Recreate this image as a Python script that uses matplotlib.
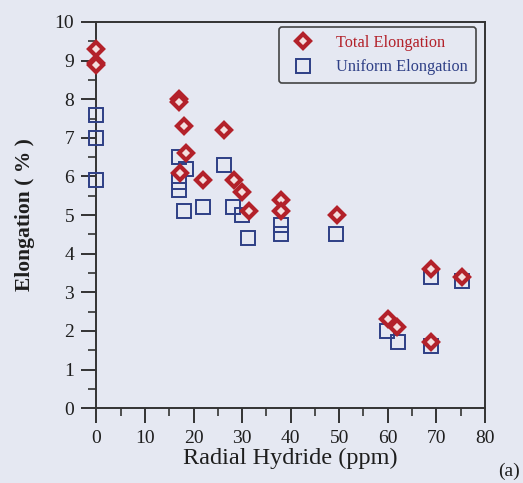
import matplotlib
matplotlib.use("Agg")
import matplotlib.pyplot as plt
from matplotlib.ticker import MultipleLocator

# 数据
total_x = [0, 0, 0, 17, 17, 18, 18.5, 17.3, 22, 26.3, 28.3, 30, 31.5,
           38, 38, 49.5, 60, 62, 69, 69, 75.3]
total_y = [9.3, 8.95, 8.88, 8.0, 7.92, 7.3, 6.6, 6.1, 5.9, 7.2, 5.9, 5.6, 5.1,
           5.4, 5.1, 5.0, 2.3, 2.1, 3.6, 1.7, 3.4]

uniform_x = [0, 0, 0, 17, 17, 17, 18.5, 18, 22, 26.3, 28.2, 30, 31.3,
             38, 38, 49.3, 59.8, 62.2, 69, 69, 75.2]
uniform_y = [7.6, 7.0, 5.9, 6.5, 5.85, 5.65, 6.2, 5.1, 5.2, 6.3, 5.2, 5.0, 4.4,
             4.75, 4.5, 4.5, 2.0, 1.7, 3.4, 1.6, 3.3]

red = '#b3212a'
blue = '#2e3f86'
bg = '#e5e8f2'

font = {'family': 'Liberation Serif'}
matplotlib.rc("font", **font)

fig = plt.figure(figsize=(5.23, 4.83), dpi=100, facecolor=bg)
ax = fig.add_axes([0.1845, 0.155, 0.7425, 0.7995])
ax.set_facecolor(bg)

# 散点
ax.plot(uniform_x, uniform_y, linestyle='none', marker='s', markersize=10,
        markerfacecolor='none', markeredgecolor=blue, markeredgewidth=1.4,
        clip_on=False, label='Uniform Elongation', zorder=3)
ax.plot(total_x, total_y, linestyle='none', marker='D', markersize=7.5,
        markerfacecolor='#f3dede', markeredgecolor=red, markeredgewidth=3,
        clip_on=False, label='Total Elongation', zorder=4)

ax.set_xlim(0, 80)
ax.set_ylim(0, 10)
ax.xaxis.set_major_locator(MultipleLocator(10))
ax.xaxis.set_minor_locator(MultipleLocator(5))
ax.yaxis.set_major_locator(MultipleLocator(1))
ax.yaxis.set_minor_locator(MultipleLocator(0.5))

for s in ax.spines.values():
    s.set_color('#333333')
    s.set_linewidth(1.4)

ax.tick_params(which='major', direction='out', length=11, width=1.4,
               color='#333333', labelsize=14, labelcolor='#1e1e1e', pad=5)
ax.tick_params(which='minor', direction='out', length=6, width=1.2,
               color='#333333')

ax.set_xlabel('Radial Hydride (ppm)', fontsize=17.5, color='#1e1e1e', labelpad=0)
ax.set_ylabel('Elongation ( % )', fontsize=15.5, fontweight='bold',
              color='#1e1e1e', labelpad=14)

# 图例
handles, labels = ax.get_legend_handles_labels()
leg = ax.legend(handles[::-1], labels[::-1], loc='upper right',
                bbox_to_anchor=(0.977, 0.987), borderaxespad=0, fontsize=11.7,
                labelcolor=[red, blue], frameon=True, fancybox=True,
                edgecolor='#444444', facecolor=bg, framealpha=1,
                handlelength=1.9, handletextpad=1.1, borderpad=0.5,
                labelspacing=0.5)
leg.get_frame().set_linewidth(1.2)

fig.text(0.952, 0.015, '(a)', fontsize=14, color='#1e1e1e')

fig.savefig("out.png", dpi=100, facecolor=bg)
